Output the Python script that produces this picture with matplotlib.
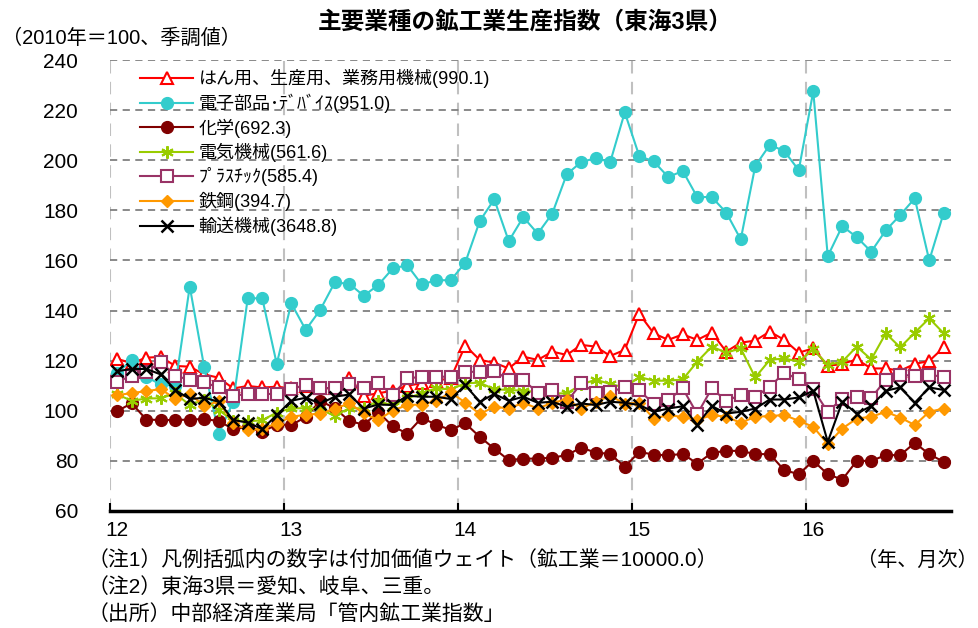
import numpy as np
import matplotlib
matplotlib.use("Agg")
import matplotlib.pyplot as plt

plt.rcParams['font.family'] = ['Liberation Sans', 'Noto Sans CJK JP']

# monthly index, Jan 2012 - Oct 2016 (2010 = 100, seasonally adjusted)
years = [2012, 2013, 2014, 2015, 2016]
year_labels = ['12', '13', '14', '15', '16']
n_months = 58

machinery = [120.7, 119, 121.2, 121.5, 117.9, 117.6, 114.5, 113.2, 108.9, 109.9, 109.3, 109.6,
             109, 110, 109, 109, 113, 106, 107, 108, 110, 111, 112, 113,
             126, 120.3, 119.2, 116.9, 121.6, 120.3, 123.6, 122.3, 126.3, 125.6, 121.9, 124.3,
             138.7, 130.9, 128.3, 130.5, 128.3, 131.2, 123.6, 127.2, 128, 131.6, 128.3, 123.2,
             124.9, 117.9, 118.7, 120.5, 116.9, 116.9, 116, 118.7, 119.9, 125.3]
electronics = [115, 120.3, 113.5, 110.5, 110, 149.6, 117.3, 90.9, 103.6, 144.9, 144.9, 118.7,
               142.9, 132.3, 140.3, 151.2, 150.7, 145.9, 150.2, 156.8, 158.1, 150.4, 152.1, 152.1,
               159.1, 175.7, 184.4, 167.7, 177.3, 170.7, 178.7, 194.4, 199.3, 200.8, 199.3, 219.1,
               201.7, 199.5, 193.3, 195.7, 185.3, 185.3, 179.1, 168.4, 197.7, 206.1, 203.7, 196,
               227.5, 161.7, 173.7, 169.3, 163.5, 172, 178.1, 184.8, 160, 179.1]
chemicals = [99.9, 103, 96.5, 96.3, 96.3, 96.5, 96.7, 95.9, 92.7, 93.5, 91.6, 94.5,
             94.3, 97.5, 104, 101, 96, 94.4, 99.5, 93.8, 90.9, 97.2, 94.4, 92.4,
             95, 89.6, 84.9, 80.3, 80.9, 80.9, 81.3, 82.3, 85.3, 83.3, 82.8, 77.6,
             83.6, 82.5, 82.2, 82.8, 78.9, 83.2, 84, 84, 82.7, 82.7, 76.3, 74.7,
             80, 74.7, 72.5, 80, 80, 82.3, 82.3, 87.2, 82.7, 79.6]
electrical = [106.5, 104, 104.9, 105, 106.9, 102.3, 104.5, 100.3, 96, 95.8, 96.2, 99.3,
              101, 101, 100.5, 98, 101, 101, 104, 102, 105, 107, 109, 108.5,
              111, 111.2, 108.6, 108.3, 108, 107.5, 107, 106.9, 110.5, 112.4, 110.7, 109.3,
              113.5, 112, 112, 112.5, 119.6, 125.6, 123.2, 124.9, 113.3, 120.3, 120.9, 119.6,
              124.5, 118.3, 119.6, 125.6, 120.5, 130.9, 125.3, 131.2, 136.9, 130.9]
plastics = [111.6, 114, 115.3, 119.6, 114, 112.3, 111.3, 109.3, 106, 106.7, 106.7, 106.7,
            108.7, 110.3, 108.9, 109.2, 110.5, 108.9, 110.9, 106.3, 112.9, 113.6, 113.6, 113.6,
            115.5, 115.6, 116, 112.3, 112.3, 107.2, 108.3, 103.6, 110.9, 107.2, 107.6, 109.3,
            108.2, 102.7, 104.3, 108.9, 98.7, 108.9, 104, 106.3, 105.6, 109.6, 115.2, 112.5,
            108.5, 99.6, 104.9, 105.6, 105.2, 112.3, 114.3, 114, 114.3, 113.6]
steel = [106.2, 107.1, 107.8, 108.7, 104.7, 106.7, 102, 103.8, 95, 92.3, 92.9, 94.9,
         97.6, 98.4, 98.9, 100.8, 103, 99, 96.3, 100.1, 102.3, 102.5, 103.9, 107.3,
         103.3, 98.7, 101.6, 100.9, 103.2, 100.9, 103.2, 104.5, 100.9, 103.6, 105.9, 102.9,
         103.2, 96.9, 98.3, 97.5, 96.3, 98.3, 97.6, 95.2, 97.6, 97.9, 98.3, 96,
         93.6, 86.7, 92.9, 96.9, 97.6, 99.6, 97.3, 94.3, 99.6, 100.9]
transport = [115.8, 116.7, 116.7, 114.5, 108.3, 104.7, 105.2, 103.6, 96.3, 95.3, 92.7, 98.3,
             104, 105.2, 102.9, 105.6, 106.5, 100.9, 102.5, 102.3, 106, 105.6, 105.6, 104.7,
             110.2, 103.6, 106.7, 104, 105.6, 103.2, 103.6, 101.6, 102.9, 102.3, 103.6, 103.2,
             102.3, 99.6, 100.9, 101.8, 94.3, 101.9, 98.9, 99.6, 100.9, 104.5, 104.5, 105.3,
             108, 87.6, 103.6, 98.9, 101.9, 108, 109.3, 103.2, 109.3, 108.3]

labels = ['はん用、生産用、業務用機械(990.1)', '電子部品･ﾃﾞﾊﾞｲｽ(951.0)', '化学(692.3)',
          '電気機械(561.6)', 'ﾌﾟﾗｽﾁｯｸ(585.4)', '鉄鋼(394.7)', '輸送機械(3648.8)']

# month centres, year boundary sits between Dec and Jan
x = years[0] + (np.arange(n_months) + 0.5) / 12

fig = plt.figure(figsize=(9.79, 6.28), dpi=100)
ax = fig.add_axes([110 / 979, 1 - 511 / 628, 841 / 979, 451 / 628])

lw = 1.5
ax.plot(x, machinery, color='#FF0000', lw=lw, marker='^', ms=8, mfc='white', mec='#FF0000', mew=1.5, label=labels[0])
ax.plot(x, electronics, color='#33CCCC', lw=lw, marker='o', ms=8.5, label=labels[1])
ax.plot(x, chemicals, color='#800000', lw=lw, marker='o', ms=8.5, label=labels[2])
ax.plot(x, electrical, color='#99CC00', lw=lw, marker=(6, 2, 0), ms=9, mew=1.5, label=labels[3])
ax.plot(x, plastics, color='#993366', lw=lw, marker='s', ms=8, mfc='white', mec='#993366', mew=1.5, label=labels[4])
ax.plot(x, steel, color='#FF9900', lw=lw, marker='D', ms=6.5, label=labels[5])
ax.plot(x, transport, color='black', lw=lw, marker='x', ms=8, mew=1.8, label=labels[6])

ax.set_xlim(years[0], years[0] + n_months / 12)
ax.set_ylim(60, 240)
ax.set_yticks(range(60, 241, 20))
ax.tick_params(axis='y', length=0, labelsize=15, pad=23)

ax.set_xticks(years)
ax.set_xticklabels([''] * len(years))
ax.set_xticks([y + 0.5 / 12 for y in years], minor=True)
ax.set_xticklabels(year_labels, minor=True)
ax.tick_params(axis='x', which='major', direction='in', length=6, width=1.5)
ax.tick_params(axis='x', which='minor', length=0, labelsize=15, pad=7)

ax.grid(axis='y', color='#808080', lw=1.3, linestyle=(0, (4, 3)))
ax.grid(axis='x', color='#C0C0C0', lw=1.5, linestyle=(0, (6, 4)))
ax.set_axisbelow(True)

for side in ['left', 'right', 'top']:
    ax.spines[side].set_visible(False)
ax.spines['bottom'].set_linewidth(2.5)

ax.legend(loc='upper left', bbox_to_anchor=(30 / 841, 0.98), frameon=False,
          fontsize=13, handlelength=2.95, handletextpad=0.3, labelspacing=0.3,
          borderpad=0, borderaxespad=0)

fig.text(525 / 979, 1 - 22 / 628, '主要業種の鉱工業生産指数（東海3県）', ha='center', va='center',
         fontsize=17, fontweight='bold')
fig.text(2 / 979, 1 - 38 / 628, '（2010年＝100、季調値）', ha='left', va='center', fontsize=14.5)
fig.text(978 / 979, 1 - 560 / 628, '（年、月次）', ha='right', va='center', fontsize=14.5)
notes = ['（注1）凡例括弧内の数字は付加価値ウェイト（鉱工業＝10000.0）',
         '（注2）東海3県＝愛知、岐阜、三重。',
         '（出所）中部経済産業局「管内鉱工業指数」']
for k, note in enumerate(notes):
    fig.text(88 / 979, 1 - (560 + 27.5 * k) / 628, note, ha='left', va='center', fontsize=15)

fig.savefig('out.png', dpi=100)
